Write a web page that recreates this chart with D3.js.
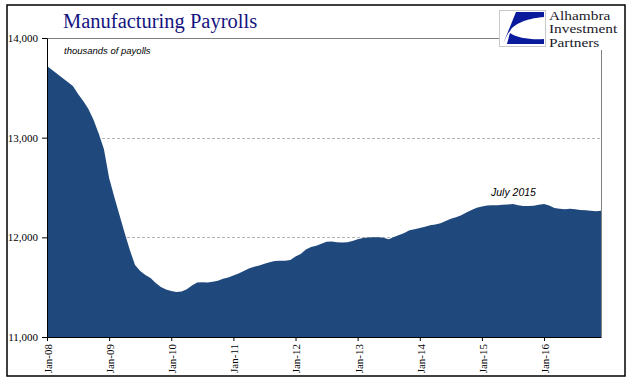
<!DOCTYPE html>
<html>
<head>
<meta charset="utf-8">
<script src="https://cdn.jsdelivr.net/npm/d3@7"></script>
<style>
  body { margin: 0; background: #fff; }
  svg { display: block; }
</style>
</head>
<body>
<svg id="chart" width="641" height="392"></svg>
<script>
// chart data (thousands of payrolls, monthly Jan-08 .. Dec-16)
var years = ["08", "09", "10", "11", "12", "13", "14", "15", "16"];
var months = ["Jan", "Feb", "Mar", "Apr", "May", "Jun", "Jul", "Aug", "Sep", "Oct", "Nov", "Dec"];
var payrolls = [
    13719, 13679, 13639, 13599, 13558, 13518, 13438, 13368, 13288, 13177, 13040, 12885,
    12595, 12405, 12224, 12043, 11873, 11722, 11662, 11622, 11592, 11542, 11502, 11477,
    11462, 11452, 11456, 11480, 11517, 11547, 11549, 11547, 11554, 11565, 11584, 11596,
    11616, 11638, 11662, 11688, 11704, 11718, 11734, 11751, 11763, 11766, 11765, 11773,
    11808, 11833, 11878, 11902, 11916, 11935, 11955, 11957, 11950, 11948, 11950, 11963,
    11981, 11993, 11999, 12000, 12000, 11995, 11980, 12003, 12023, 12043, 12072, 12081,
    12094, 12107, 12120, 12130, 12141, 12163, 12186, 12201, 12221, 12248, 12274, 12297,
    12310, 12319, 12321, 12323, 12326, 12330, 12334, 12321, 12314, 12314, 12316, 12326,
    12334, 12319, 12294, 12287, 12281, 12287, 12281, 12274, 12271, 12267, 12261, 12267
];
var yTicks = [11000, 12000, 13000, 14000];
var gridTicks = [12000, 13000];
var title = "Manufacturing Payrolls";
var subtitle = "thousands of payolls";
var note = "July 2015";
var logoLines = ["Alhambra", "Investment", "Partners"];

var labels = [];
years.forEach(function (yr) {
    months.forEach(function (m) { labels.push(m + "-" + yr); });
});
var data = payrolls.map(function (v, i) { return { label: labels[i], value: v }; });
var janLabels = labels.filter(function (d) { return d.indexOf("Jan") === 0; });

var svg = d3.select("#chart");
var plotLeft = 47, plotRight = 601, plotTop = 38, plotBottom = 337;
var serif = "'Liberation Serif', 'Times New Roman', serif";
var sans = "'Liberation Sans', Arial, sans-serif";

var x = d3.scalePoint()
    .domain(labels)
    .range([plotLeft, plotRight]);

var y = d3.scaleLinear()
    .domain([11000, 14000])
    .range([plotBottom, plotTop]);

// outer frame
svg.append("rect")
    .attr("x", 7).attr("y", 5)
    .attr("width", 618).attr("height", 371)
    .attr("fill", "#fff")
    .attr("stroke", "#000")
    .attr("stroke-width", 1.5);

// dashed gridlines
svg.append("g").selectAll("line")
    .data(gridTicks)
    .enter()
    .append("line")
    .attr("x1", plotLeft).attr("x2", plotRight)
    .attr("y1", function (d) { return Math.round(y(d)) + 0.5; })
    .attr("y2", function (d) { return Math.round(y(d)) + 0.5; })
    .attr("stroke", "#b4b4b4")
    .attr("stroke-dasharray", "3,2");

// top border up to the logo, and right border below it
svg.append("line")
    .attr("x1", plotLeft).attr("x2", 499)
    .attr("y1", y(14000) + 0.5).attr("y2", y(14000) + 0.5)
    .attr("stroke", "#808080");
svg.append("line")
    .attr("x1", plotRight + 0.5).attr("x2", plotRight + 0.5)
    .attr("y1", 50).attr("y2", plotBottom)
    .attr("stroke", "#808080");

// area
var area = d3.area()
    .x(function (d) { return x(d.label); })
    .y0(y(11000))
    .y1(function (d) { return y(d.value); });

svg.append("path")
    .datum(data)
    .attr("d", area)
    .attr("fill", "#1f497d");

// y axis
var yAxis = svg.append("g")
    .attr("transform", "translate(" + plotLeft + ",0)")
    .call(d3.axisLeft(y).tickValues(yTicks).tickFormat(d3.format(",")).tickSize(5).tickPadding(4));
yAxis.select(".domain").attr("stroke", "#000");
yAxis.selectAll("text")
    .style("font-family", serif)
    .style("font-size", "11px")
    .attr("fill", "#000");

// x axis
var xAxis = svg.append("g")
    .attr("transform", "translate(0," + plotBottom + ")")
    .call(d3.axisBottom(x).tickValues(janLabels).tickSize(4).tickSizeOuter(0));
xAxis.select(".domain").attr("stroke", "#000").attr("stroke-width", 1.2);
xAxis.selectAll("text")
    .style("font-family", serif)
    .style("font-size", "11px")
    .attr("fill", "#000")
    .attr("text-anchor", "end")
    .attr("dy", "0.4em")
    .attr("transform", "translate(0,7)rotate(-90)")
    .attr("x", 0)
    .attr("y", 0);

// titles
svg.append("text")
    .attr("x", 63).attr("y", 28)
    .style("font-family", serif)
    .style("font-size", "20.5px")
    .attr("fill", "#14147f")
    .text(title);

svg.append("text")
    .attr("x", 64).attr("y", 54)
    .style("font-family", sans)
    .style("font-size", "9.5px")
    .style("font-style", "italic")
    .attr("fill", "#000")
    .text(subtitle);

svg.append("text")
    .attr("x", 491).attr("y", 196)
    .style("font-family", sans)
    .style("font-size", "10.5px")
    .style("font-style", "italic")
    .attr("fill", "#000")
    .text(note);

// logo
var logo = svg.append("g").attr("transform", "translate(499,10)");
logo.append("rect")
    .attr("x", 0.5).attr("y", 0.5)
    .attr("width", 46).attr("height", 36)
    .attr("fill", "#fff")
    .attr("stroke", "#c8c8c8");
logo.append("path")
    .attr("d", "M17,2 L45,2 L45,7 C32,8 16,12 11,21 C8,24 6,30 4,34 Z")
    .attr("fill", "#0a1a9c");
logo.append("path")
    .attr("d", "M11,23 C18,28 32,30 45,29 L45,34 L8,34 C9,30 10,26 11,23 Z")
    .attr("fill", "#0a1a9c");

// company name, stretched like the original wordmark
svg.append("g")
    .attr("transform", "translate(549,0)scale(1.28,1)")
    .selectAll("text")
    .data(logoLines)
    .enter()
    .append("text")
    .attr("x", 0)
    .attr("y", function (d, i) { return 20 + i * 13.4; })
    .style("font-family", serif)
    .style("font-size", "12px")
    .attr("fill", "#1a1a2a")
    .text(function (d) { return d; });
</script>
</body>
</html>
